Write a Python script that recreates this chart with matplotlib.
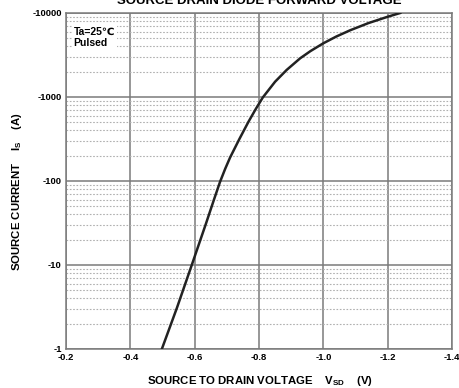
"""
Source drain diode forward voltage curve
"""
import numpy as np
import matplotlib.pyplot as plt
from matplotlib.ticker import FixedLocator, LogLocator, NullFormatter

# curve (volts, amps)
vsd = [-0.498, -0.545, -0.591, -0.635, -0.66, -0.679, -0.695, -0.71, -0.739,
       -0.767, -0.79, -0.812, -0.85, -0.886, -0.928, -0.96, -1.0, -1.04,
       -1.083, -1.14, -1.2, -1.239]
i_s = [-1, -3.1, -10, -31, -60, -98, -140, -190, -316,
       -505, -720, -990, -1520, -2100, -2890, -3520, -4360, -5240,
       -6220, -7580, -9020, -10000]

x_ticks = [-0.2, -0.4, -0.6, -0.8, -1.0, -1.2, -1.4]
x_labels = ['-0.2', '-0.4', '-0.6', '-0.8', '-1.0', '-1.2', '-1.4']
y_ticks = [1, 10, 100, 1000, 10000]
y_labels = ['-1', '-10', '-100', '-1000', '-10000']

plt.rcParams['font.family'] = ['Liberation Sans', 'DejaVu Sans']

fig = plt.figure(figsize=(4.59, 3.88), dpi=100)
ax = fig.add_axes([66 / 459, 1 - 349 / 388, 386 / 459, 336 / 388])

# magnitude of current on a log scale, labels carry the sign
ax.plot(vsd, [-i for i in i_s], color='#222222', linewidth=1.8, zorder=3)

ax.set_yscale('log')
ax.set_xlim(-0.2, -1.4)
ax.set_ylim(1, 10000)

ax.xaxis.set_major_locator(FixedLocator(x_ticks))
ax.set_xticklabels(x_labels)
ax.yaxis.set_major_locator(FixedLocator(y_ticks))
ax.set_yticklabels(y_labels)
ax.yaxis.set_minor_locator(LogLocator(base=10, subs=np.arange(2, 10)))
ax.yaxis.set_minor_formatter(NullFormatter())

ax.tick_params(which='both', length=0, labelsize=6.8, pad=3)
for lab in ax.get_xticklabels() + ax.get_yticklabels():
    lab.set_fontweight('bold')

ax.grid(True, which='major', color='#7a7a7a', linewidth=1.1, linestyle='-')
ax.grid(True, which='minor', axis='y', color='#b0b0b0', linewidth=0.8,
        linestyle=(0, (1.5, 1.5)))
for sp in ax.spines.values():
    sp.set_color('#7a7a7a')
    sp.set_linewidth(1.1)

ax.text(0.02, 0.96, 'Ta=25\u2103\nPulsed', transform=ax.transAxes,
        fontsize=7.5, fontweight='bold', va='top', ha='left', linespacing=1.25,
        bbox=dict(facecolor='white', edgecolor='none', pad=1.5), zorder=4)

fig.text(259 / 459, 1 - 4 / 388, 'SOURCE DRAIN DIODE FORWARD VOLTAGE',
         ha='center', va='baseline', fontsize=9.5, fontweight='bold')
fig.text(260 / 459, 1 - 384 / 388, 'SOURCE TO DRAIN VOLTAGE    V$_{\\mathregular{SD}}$    (V)',
         ha='center', va='baseline', fontsize=8.2, fontweight='bold')
fig.text(17 / 459, 1 - 192 / 388, 'SOURCE CURRENT    I$_{\\mathregular{S}}$    (A)',
         ha='center', va='center', rotation=90, fontsize=8.2, fontweight='bold')

fig.savefig('out.png', dpi=100)
